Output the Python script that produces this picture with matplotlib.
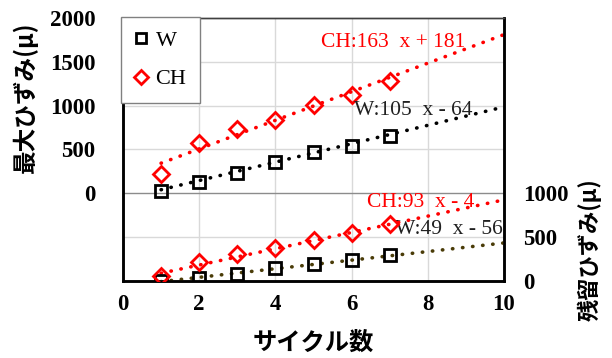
import numpy as np
import matplotlib
matplotlib.use("Agg")
import matplotlib.pyplot as plt
from matplotlib.lines import Line2D

# ---- data ----
cycles = [1, 2, 3, 4, 5, 6, 7]
max_W = [25, 130, 235, 360, 475, 545, 650]
max_CH = [215, 578, 739, 839, 1011, 1119, 1280]
res_W = [-5, 37, 76, 144, 197, 239, 295]
res_CH = [57, 219, 303, 371, 462, 545, 647]

# trendline coefficients (slope, intercept) as shown in the chart
trend_max_W = (105, -64)
trend_max_CH = (163, 181)
trend_res_W = (49, -56)
trend_res_CH = (93, -4)
trend_range = [1, 10]

labels_text = {
    "max_CH": "CH:163  x + 181",
    "max_W": "W:105  x - 64",
    "res_CH": "CH:93  x - 4",
    "res_W": "W:49  x - 56",
}

left_ticks = [0, 500, 1000, 1500, 2000]
right_ticks = [0, 500, 1000]
x_ticks = [0, 2, 4, 6, 8, 10]

xlabel = "サイクル数"
ylabel_left = "最大ひずみ(μ)"
ylabel_right = "残留ひずみ(μ)"

# ---- style ----
SERIF = ["Liberation Serif", "DejaVu Serif"]
CJK = ["Noto Sans CJK JP", "DejaVu Sans"]
RED = "#ff0000"
OLIVE = "#4a3c08"

fig = plt.figure(figsize=(6.12, 3.58), dpi=100)
ax = fig.add_axes([123/612, 1-281/358, 381/612, 263/358])
ax2 = ax.twinx()

ax.set_xlim(0, 10)
ax.set_ylim(-1000, 2000)
ax2.set_ylim(0, 3000)

# grid
for gx in [2, 4, 6, 8]:
    ax.axvline(gx, color="#d9d9d9", lw=1.0, zorder=0)
for gy in [-500, 500, 1000, 1500]:
    ax.axhline(gy, color="#d9d9d9", lw=1.0, zorder=0)
ax.axhline(0, color="#8c8c8c", lw=1.0, zorder=0)

def trend(coef):
    xs = np.array(trend_range, dtype=float)
    return xs, coef[0]*xs + coef[1]

dot = dict(linestyle=(0, (0.1, 2.7)), lw=2.6, dash_capstyle="round")

xs, ys = trend(trend_max_CH)
ax.plot(xs, ys, color=RED, zorder=2, **dot)
xs, ys = trend(trend_max_W)
ax.plot(xs, ys, color="black", zorder=2, **dot)
xs, ys = trend(trend_res_CH)
ax2.plot(xs, ys, color=RED, zorder=2, **dot)
xs, ys = trend(trend_res_W)
ax2.plot(xs, ys, color=OLIVE, zorder=2, **dot)

sq = dict(marker="s", ms=8, mfc="none", mec="black", mew=2, ls="none", zorder=3)
dm = dict(marker="D", ms=8.5, mfc="none", mec=RED, mew=2, ls="none", zorder=3)
ax.plot(cycles, max_W, **sq)
ax.plot(cycles, max_CH, **dm)
ax2.plot(cycles, res_W, **sq)
ax2.plot(cycles, res_CH, **dm)

# ticks
ax.set_xticks(x_ticks)
ax.set_yticks(left_ticks)
ax2.set_yticks(right_ticks)
for a in (ax, ax2):
    a.tick_params(length=0)
ax.tick_params(axis="x", pad=9)
ax.tick_params(axis="y", pad=20)
ax2.tick_params(axis="y", pad=14)
for lab in ax.get_xticklabels() + ax.get_yticklabels() + ax2.get_yticklabels():
    lab.set_fontfamily(SERIF)
    lab.set_fontweight("bold")
    lab.set_fontsize(16.5)

for a in (ax, ax2):
    for s in a.spines.values():
        s.set_color("black")
        s.set_linewidth(1.8)
    a.spines["top"].set_linewidth(1.0)
    a.spines["top"].set_color("#404040")

ax.set_xlabel(xlabel, family=CJK, fontweight="bold", fontsize=17.5, labelpad=12)
ax.set_ylabel(ylabel_left, family=CJK, fontweight="bold", fontsize=17)
ax.yaxis.set_label_coords(-0.222, 0.70)
fig.text(590/612, 1-250/358, ylabel_right, family=CJK, fontweight="bold",
         fontsize=16, rotation=90, ha="center", va="center")

# equation labels
tk = dict(transform=ax.transAxes, family=SERIF, fontsize=15.5, va="center", ha="left")
ax.text(0.52, 0.905, labels_text["max_CH"], color=RED, **tk)
ax.text(0.605, 0.65, labels_text["max_W"], color="#202020", **tk)
ax.text(0.64, 0.30, labels_text["res_CH"], color=RED, **tk)
ax.text(0.715, 0.194, labels_text["res_W"], color="#202020", **tk)

# legend
handles = [Line2D([], [], **{**sq, "ms": 7}), Line2D([], [], **{**dm, "ms": 7.5})]
leg = ax2.legend(handles, ["W", "CH"], loc="upper left", bbox_to_anchor=(-0.005, 1.003),
                 prop={"family": SERIF, "size": 16}, frameon=True, fancybox=False,
                 edgecolor="#808080", framealpha=1, handlelength=0.6, handletextpad=0.35,
                 labelspacing=0.8, borderpad=0.6, borderaxespad=0)
leg.get_frame().set_linewidth(1.0)
leg.set_zorder(10)

fig.savefig("out.png", dpi=100)
